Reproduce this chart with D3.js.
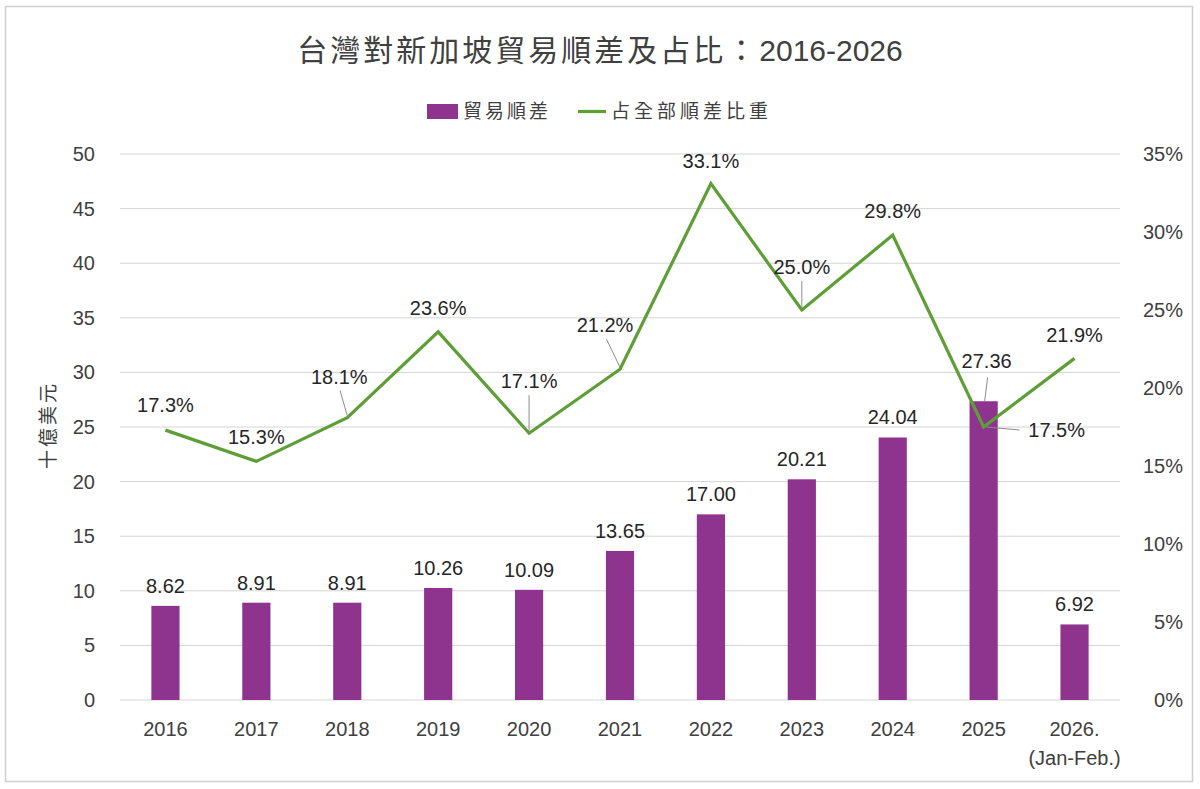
<!DOCTYPE html>
<html>
<head>
<meta charset="utf-8">
<script src="https://cdn.jsdelivr.net/npm/d3@7"></script>
<style>
  body { margin: 0; background: #fff; }
  text { font-family: "Liberation Sans", Arial, "Noto Sans CJK TC", sans-serif; }
  .cjk { font-family: "Noto Sans CJK TC", sans-serif; }
</style>
</head>
<body>
<div class="chart"></div>
<script>
// data
const years = ['2016','2017','2018','2019','2020','2021','2022','2023','2024','2025','2026.'];
const surplus = [8.62, 8.91, 8.91, 10.26, 10.09, 13.65, 17.00, 20.21, 24.04, 27.36, 6.92];
const share = [17.3, 15.3, 18.1, 23.6, 17.1, 21.2, 33.1, 25.0, 29.8, 17.5, 21.9];
const leftTicks = [0, 5, 10, 15, 20, 25, 30, 35, 40, 45, 50];
const rightTicks = [0, 5, 10, 15, 20, 25, 30, 35];

const width = 1200, height = 789;
const plotL = 120, plotR = 1120, plotT = 154, plotB = 700;
const purple = '#8E348F', green = '#5E9E36';

const svg = d3.select('.chart').append('svg')
  .attr('width', width).attr('height', height);

// frame
svg.append('rect')
  .attr('x', 5.5).attr('y', 6.5).attr('width', 1187).attr('height', 775)
  .attr('fill', '#fff').attr('stroke', '#d0d0d0').attr('stroke-width', 1.5);

const x = d3.scaleBand().domain(years).range([plotL, plotR]).paddingInner(0.69).paddingOuter(0.345);
const y = d3.scaleLinear().domain([0, 50]).range([plotB, plotT]);
const y2 = d3.scaleLinear().domain([0, 35]).range([plotB, plotT]);
const cx = d => x(d) + x.bandwidth() / 2;

// gridlines
svg.selectAll('line.grid')
  .data(leftTicks)
  .enter()
  .append('line')
  .attr('x1', plotL).attr('x2', plotR)
  .attr('y1', d => y(d)).attr('y2', d => y(d))
  .attr('stroke', '#d4d4d4').attr('stroke-width', 1);

// left axis labels
svg.selectAll('text.lt')
  .data(leftTicks)
  .enter()
  .append('text')
  .attr('x', 95).attr('y', d => y(d) + 7)
  .attr('text-anchor', 'end').attr('font-size', '20px').attr('fill', '#404040')
  .text(d => d);

// right axis labels
svg.selectAll('text.rt')
  .data(rightTicks)
  .enter()
  .append('text')
  .attr('x', 1183).attr('y', d => y2(d) + 7)
  .attr('text-anchor', 'end').attr('font-size', '20px').attr('fill', '#404040')
  .text(d => d + '%');

// x labels
svg.selectAll('text.xl')
  .data(years)
  .enter()
  .append('text')
  .attr('x', d => cx(d)).attr('y', 736)
  .attr('text-anchor', 'middle').attr('font-size', '20px').attr('fill', '#404040')
  .text(d => d);
svg.append('text')
  .attr('x', cx('2026.')).attr('y', 765)
  .attr('text-anchor', 'middle').attr('font-size', '20px').attr('fill', '#404040')
  .text('(Jan-Feb.)');

// bars
svg.selectAll('rect.bar')
  .data(years)
  .enter()
  .append('rect')
  .attr('x', d => x(d)).attr('width', x.bandwidth())
  .attr('y', (d, i) => y(surplus[i]))
  .attr('height', (d, i) => plotB - y(surplus[i]))
  .attr('fill', purple);

// bar value labels (2025 label lifted, with a leader)
const barDx = [0, 0, 0, 0, 0, 0, 0, 0, 0, 3, 0];
svg.selectAll('text.bv')
  .data(years)
  .enter()
  .append('text')
  .attr('x', (d, i) => cx(d) + barDx[i])
  .attr('y', (d, i) => y(surplus[i]) - (i == 9 ? 33 : 13))
  .attr('text-anchor', 'middle').attr('font-size', '20px').attr('fill', '#262626')
  .text((d, i) => surplus[i].toFixed(2));
svg.append('line')
  .attr('x1', cx('2025') + 4).attr('y1', y(surplus[9]) - 24)
  .attr('x2', cx('2025') + 1).attr('y2', y(surplus[9]))
  .attr('stroke', '#8c8c8c').attr('stroke-width', 1);

// line
const line = d3.line().x((d, i) => cx(years[i])).y(d => y2(d));
svg.append('path')
  .datum(share)
  .attr('d', line)
  .attr('fill', 'none').attr('stroke', green).attr('stroke-width', 3.2)
  .attr('stroke-linejoin', 'miter');

// percent labels: offsets from point, plus optional leader line
const pdx = [0, 0, -8, 0, 0, -15, 0, 0, 0, 73, 0];
const pdy = [-18, -17, -34, -17, -45, -37, -16, -36, -17, 10, -16];
const leader = [false, false, true, false, true, true, false, true, false, true, false];
svg.selectAll('text.pv')
  .data(years)
  .enter()
  .append('text')
  .attr('x', (d, i) => cx(d) + pdx[i])
  .attr('y', (d, i) => y2(share[i]) + pdy[i])
  .attr('text-anchor', 'middle').attr('font-size', '20px').attr('fill', '#262626')
  .text((d, i) => share[i].toFixed(1) + '%');

svg.selectAll('line.ld')
  .data(years.filter((d, i) => leader[i] && i != 9))
  .enter()
  .append('line')
  .attr('x1', d => cx(d) + pdx[years.indexOf(d)] * 0.9)
  .attr('y1', d => y2(share[years.indexOf(d)]) + pdy[years.indexOf(d)] + 7)
  .attr('x2', d => cx(d))
  .attr('y2', d => y2(share[years.indexOf(d)]) - 2)
  .attr('stroke', '#8c8c8c').attr('stroke-width', 1);
svg.append('line')
  .attr('x1', cx('2025') + 3).attr('y1', y2(share[9]))
  .attr('x2', cx('2025') + 36).attr('y2', y2(share[9]) + 3)
  .attr('stroke', '#8c8c8c').attr('stroke-width', 1);

// title
svg.append('text')
  .attr('x', 600).attr('y', 61)
  .attr('text-anchor', 'middle').attr('font-size', '30px').attr('fill', '#404040')
  .html('<tspan class="cjk" letter-spacing="3">台灣對新加坡貿易順差及占比：</tspan><tspan>2016-2026</tspan>');

// legend
svg.append('rect').attr('x', 427).attr('y', 104).attr('width', 31).attr('height', 15).attr('fill', purple);
svg.append('text').attr('class', 'cjk').attr('x', 463).attr('y', 118)
  .attr('font-size', '19px').attr('letter-spacing', '3px').attr('fill', '#404040').text('貿易順差');
svg.append('line').attr('x1', 578).attr('x2', 606).attr('y1', 111.5).attr('y2', 111.5)
  .attr('stroke', green).attr('stroke-width', 3.2);
svg.append('text').attr('class', 'cjk').attr('x', 611).attr('y', 118)
  .attr('font-size', '19px').attr('letter-spacing', '4px').attr('fill', '#404040').text('占全部順差比重');

// y axis title
svg.append('text').attr('class', 'cjk')
  .attr('transform', 'translate(55,425) rotate(-90)')
  .attr('text-anchor', 'middle').attr('font-size', '19px').attr('letter-spacing', '3px').attr('fill', '#404040')
  .text('十億美元');
</script>
</body>
</html>
